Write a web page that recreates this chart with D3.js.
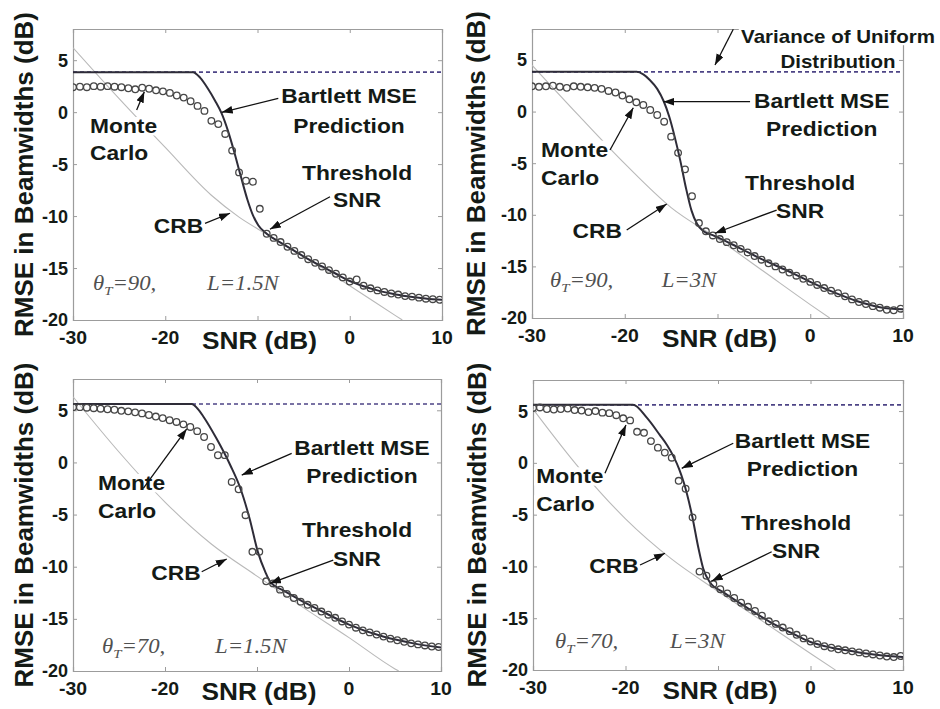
<!DOCTYPE html>
<html><head><meta charset="utf-8">
<script src="https://cdn.jsdelivr.net/npm/d3@7"></script>
<style>
body{margin:0;background:#fff}
svg{display:block;background:#fff}
</style>
</head><body>
<svg id="chart" width="940" height="709"></svg>
<script>
// ---------- data ----------
const snr = [-30,-29.25,-28.5,-27.75,-27,-26.25,-25.5,-24.75,-24,-23.25,
  -22.5,-21.75,-21,-20.25,-19.5,-18.75,-18,-17.25,-16.5,-15.75,
  -15,-14.25,-13.5,-12.75,-12,-11.25,-10.5,-9.75,-9,-8.25,
  -7.5,-6.75,-6,-5.25,-4.5,-3.75,-3,-2.25,-1.5,-0.75,
  0,0.75,1.5,2.25,3,3.75,4.5,5.25,6,6.75,
  7.5,8.25,9,9.75];

const xTicks = [-30,-20,-10,0,10];
const xTickLabels = ["-30","-20","0","10"];
const xTickLabelValues = [-30,-20,0,10];
const yTicks = [5,0,-5,-10,-15,-20];
const yTickLabels = ["5","0","-5","-10","-15","-20"];

// Monte Carlo RMSE (dB)
const mc1 = [2.4,2.45,2.4,2.5,2.45,2.5,2.45,2.4,2.3,2.2,
  2.35,2.25,2.1,2.0,1.85,1.6,1.4,1.05,0.6,0.12,
  -0.84,-1.15,-2.1,-3.7,-5.8,-6.6,-6.7,-9.3,-11.7,-12.1,
  -12.5,-12.95,-13.35,-13.75,-14.15,-14.5,-14.85,-15.2,-15.55,-15.9,
  -16.3,-16.1,-16.7,-16.95,-17.15,-17.3,-17.45,-17.55,-17.7,-17.75,
  -17.85,-17.95,-18.0,-18.05];
const mc2 = [2.45,2.4,2.45,2.5,2.4,2.3,2.45,2.4,2.35,2.3,
  2.2,2.0,1.85,1.55,1.19,0.9,0.64,0.15,-0.33,-0.98,
  -2.43,-4.0,-5.6,-8.2,-10.8,-11.6,-12.0,-12.35,-12.65,-12.95,
  -13.3,-13.65,-14.0,-14.35,-14.7,-15.0,-15.3,-15.6,-15.9,-16.2,
  -16.5,-16.8,-17.1,-17.35,-17.6,-17.9,-18.2,-18.45,-18.65,-18.85,
  -19.0,-19.2,-19.25,-19.1];
const mc3 = [5.3,5.3,5.25,5.2,5.15,5.1,5.05,4.95,4.9,4.8,
  4.7,4.55,4.4,4.25,4.05,3.88,3.65,3.4,3.0,2.44,
  1.48,0.69,0.7,-1.87,-2.57,-5.06,-8.57,-8.57,-11.4,-11.6,
  -12.2,-12.6,-13.0,-13.35,-13.65,-13.95,-14.3,-14.6,-14.9,-15.25,
  -15.55,-15.85,-16.1,-16.3,-16.5,-16.7,-16.9,-17.05,-17.2,-17.35,
  -17.45,-17.55,-17.65,-17.7];
const mc4 = [5.3,5.35,5.2,5.15,5.2,5.25,5.1,5.05,4.9,5.0,
  4.85,4.8,4.6,4.3,4.1,3.0,2.9,2.1,1.47,0.99,
  0.5,-1.73,-2.5,-5.26,-10.5,-10.9,-11.7,-12.2,-12.6,-13.05,
  -13.5,-13.9,-14.3,-14.75,-15.3,-15.55,-15.9,-16.25,-16.6,-16.95,
  -17.25,-17.5,-17.7,-17.85,-18.0,-18.1,-18.2,-18.3,-18.4,-18.5,
  -18.6,-18.7,-18.75,-18.65];

// Bartlett MSE prediction
const bart1X = [-30,-17,-16.2,-15.4,-14.6,-13.9,-13.2,-12.5,-11.8,-11.1,-10.5,-9.9,-9.0,-7.5,-6,-4.5,-3,-1.5,0,1.5,3,4.5,6,7.5,9,10];
const bart1Y = [3.85,3.85,3.3,2.3,1.1,-0.1,-1.8,-3.9,-6.2,-8.4,-9.9,-10.9,-11.7,-12.55,-13.35,-14.15,-14.85,-15.55,-16.25,-16.75,-17.15,-17.45,-17.7,-17.85,-18.0,-18.05];
const bart2X = [-30,-18.7,-18.0,-17.3,-16.5,-15.8,-15.2,-14.6,-14.0,-13.4,-12.8,-12.2,-11.5,-10.45,-7.9,-5,-2.5,0,2.5,5,7.5,10];
const bart2Y = [3.85,3.85,3.6,3.06,2.2,1.0,-0.5,-2.5,-4.8,-7.4,-9.6,-10.9,-11.6,-12.0,-13.1,-14.4,-15.4,-16.5,-17.5,-18.35,-18.95,-19.15];
const bart3X = [-30,-17.1,-16.5,-15.8,-14.4,-12.9,-11.8,-10.8,-9.9,-9.1,-8.6,-7,-5.3,-3,0,3.7,7,10];
const bart3Y = [5.6,5.6,5.2,4.36,2.29,-0.27,-2.5,-5.4,-8.6,-10.5,-11.4,-12.35,-13.2,-14.25,-15.55,-16.7,-17.35,-17.75];
const bart4X = [-30,-19.2,-17.7,-16.3,-15.5,-14.8,-14.2,-13.7,-12.8,-12.1,-11.6,-10.9,-9.4,-7,-4.4,-2,0,2.3,4.6,7.3,10];
const bart4Y = [5.6,5.6,4.36,2.7,1.7,0.6,-0.6,-1.9,-5.1,-8.3,-10.2,-11.5,-12.5,-13.9,-15.35,-16.45,-17.3,-17.85,-18.2,-18.55,-18.75];

// Cramer-Rao bound
const crb1X = [-30,-25,-20,-15,-12,-9,-5,0,5,5.7];
const crb1Y = [6.2,1.3,-3.4,-8.0,-10.1,-11.75,-13.9,-16.7,-19.6,-20.0];
const crb2X = [-30,-25,-20,-15,-10,-5,0,2.1];
const crb2Y = [4.5,-0.35,-5.05,-9.3,-12.3,-15.5,-18.7,-20.0];
const crb3X = [-30,-25,-20,-15,-10,-5,0,5,5.4];
const crb3Y = [6.3,1.0,-3.8,-7.8,-10.9,-13.9,-16.8,-19.8,-20.0];
const crb4X = [-30,-25,-20,-15,-10,-5,0,2.7];
const crb4Y = [5.2,-0.5,-5.4,-9.3,-12.4,-15.4,-18.4,-20.0];

// Variance of uniform distribution (dB)
const uniformLevel = [3.85, 3.85, 5.6, 5.6];

const thetaLabels = ["90","90","70","70"];
const lLabels = ["L=1.5N","L=3N","L=1.5N","L=3N"];

// ---------- layout / annotations ----------
const panelBoxes = [
  {x0:73, x1:442, y0:29, y1:320, ylabX:33},
  {x0:532, x1:903, y0:29, y1:318, ylabX:485},
  {x0:73, x1:441, y0:379, y1:671, ylabX:33},
  {x0:533, x1:903, y0:380, y1:670, ylabX:486}
];
const annotations = [
  { labels:[
      {lines:["Monte","Carlo"], x:-28.16, y:-2.01, anchor:"start", gap:27},
      {lines:["Bartlett MSE","Prediction"], x:-0.08, y:0.88, anchor:"middle", gap:30},
      {lines:["Threshold","SNR"], x:0.79, y:-6.53, anchor:"middle", gap:27},
      {lines:["CRB"], x:-18.56, y:-11.63, anchor:"middle", gap:28}],
    arrows:[[-23.1,0.21,-22.27,1.97],[-7.75,1.33,-13.88,-0.02],[-2.14,-8.14,-8.65,-11.27],[-15.69,-10.7,-12.98,-9.73]],
    theta:{x:-27.83,y:-17.11,lx:-15.47}},
  { labels:[
      {lines:["Variance of Uniform","Distribution"], x:2.99, y:6.64, anchor:"middle", gap:25, size:18},
      {lines:["Bartlett MSE","Prediction"], x:1.24, y:0.32, anchor:"middle", gap:28},
      {lines:["Monte","Carlo"], x:-29.03, y:-4.37, anchor:"start", gap:28},
      {lines:["Threshold","SNR"], x:-1.10, y:-7.6, anchor:"middle", gap:28},
      {lines:["CRB"], x:-22.97, y:-12.28, anchor:"middle", gap:28}],
    arrows:[[-8.30,7.97,-10.27,4.51],[-6.49,0.96,-15.84,0.96],[-21.59,-3.72,-19.08,0.37],[-3.62,-9.54,-10.27,-11.79],[-19.79,-11.47,-15.48,-8.96]],
    theta:{x:-28.06,y:-16.97,lx:-16.02}},
  { labels:[
      {lines:["Monte","Carlo"], x:-27.28, y:-2.64, anchor:"start", gap:28},
      {lines:["Bartlett MSE","Prediction"], x:1.41, y:0.71, anchor:"middle", gap:28},
      {lines:["Threshold","SNR"], x:0.87, y:-7.12, anchor:"middle", gap:29},
      {lines:["CRB"], x:-18.8, y:-11.27, anchor:"middle", gap:28}],
    arrows:[[-22.36,-2.48,-17.64,3.21],[-6.23,0.87,-11.66,-1.21],[-1.71,-9.36,-8.59,-11.59],[-16.01,-10.48,-13.29,-9.26]],
    theta:{x:-26.85,y:-18.3,lx:-14.57}},
  { labels:[
      {lines:["Monte","Carlo"], x:-29.64, y:-1.97, anchor:"start", gap:28},
      {lines:["Bartlett MSE","Prediction"], x:-0.86, y:1.41, anchor:"middle", gap:28},
      {lines:["Threshold","SNR"], x:-1.56, y:-6.48, anchor:"middle", gap:28},
      {lines:["CRB"], x:-21.24, y:-10.66, anchor:"middle", gap:28}],
    arrows:[[-22.22,-1.01,-19.95,3.66],[-8.35,1.89,-13.92,-0.53],[-4.2,-8.58,-10.68,-11.41],[-18.43,-9.86,-15.73,-8.73]],
    theta:{x:-27.62,y:-17.85,lx:-15.19}}
];

const mcs = [mc1, mc2, mc3, mc4];
const barts = [[bart1X,bart1Y],[bart2X,bart2Y],[bart3X,bart3Y],[bart4X,bart4Y]];
const crbs = [[crb1X,crb1Y],[crb2X,crb2Y],[crb3X,crb3Y],[crb4X,crb4Y]];

// ---------- drawing ----------
const SX = 1.14;
const FONT = "'Liberation Sans', Arial, Helvetica, sans-serif";
const SERIF = "'Liberation Serif', 'Times New Roman', serif";
const INK = "#141a16";
const svg = d3.select("#chart");
svg.append("rect").attr("width",940).attr("height",709).attr("fill","#fff");

const defs = svg.append("defs");
defs.append("marker").attr("id","ah").attr("viewBox","0 0 10 7")
  .attr("refX",10).attr("refY",3.5).attr("markerWidth",11).attr("markerHeight",8)
  .attr("markerUnits","userSpaceOnUse").attr("orient","auto")
  .append("path").attr("d","M0,0 L10,3.5 L0,7 Z").attr("fill","#111");

function stretchedText(parent, x, y, str, o) {
  const g = parent.append("g").attr("transform", `translate(${x},${y}) scale(${o.sx||1},1)`);
  const t = g.append("text").attr("x",0).attr("y",0)
    .attr("text-anchor", o.anchor||"start")
    .attr("font-family", o.family||FONT)
    .attr("font-size", o.size)
    .attr("font-weight", o.weight||"bold")
    .attr("fill", o.fill||INK)
    .text(str);
  if (o.dy) t.attr("dy", o.dy);
  if (o.bg) {
    const b = t.node().getBBox();
    const top = -0.8*o.size, bot = 0.12*o.size;
    g.insert("rect","text").attr("x",b.x-2).attr("y",top).attr("width",b.width+4)
      .attr("height",bot-top).attr("fill","#fff");
  }
  return g;
}

panelBoxes.forEach((pb, i) => {
  const x = d3.scaleLinear().domain([-30,10]).range([pb.x0, pb.x1]);
  const y = d3.scaleLinear().domain([-20,8]).range([pb.y1, pb.y0]);
  const g = svg.append("g");
  const clipId = "clip"+i;
  defs.append("clipPath").attr("id",clipId).append("rect")
    .attr("x",pb.x0).attr("y",pb.y0).attr("width",pb.x1-pb.x0).attr("height",pb.y1-pb.y0);

  // axes (inner ticks, box)
  const axCol = "#9c9c9c";
  const axB = g.append("g").attr("transform",`translate(0,${pb.y1})`)
    .call(d3.axisBottom(x).tickValues(xTicks).tickSize(-4).tickFormat(""));
  const axT = g.append("g").attr("transform",`translate(0,${pb.y0})`)
    .call(d3.axisTop(x).tickValues(xTicks).tickSize(-4).tickFormat(""));
  const axL = g.append("g").attr("transform",`translate(${pb.x0},0)`)
    .call(d3.axisLeft(y).tickValues(yTicks).tickSize(-4).tickFormat(""));
  const axR = g.append("g").attr("transform",`translate(${pb.x1},0)`)
    .call(d3.axisRight(y).tickValues(yTicks).tickSize(-4).tickFormat(""));
  [axB,axT,axL,axR].forEach(a => {
    a.select(".domain").attr("stroke",axCol).attr("stroke-width",1.2);
    a.selectAll(".tick line").attr("stroke",axCol).attr("stroke-width",1);
  });

  // tick labels
  xTickLabelValues.forEach((v,k) => {
    stretchedText(g, x(v), pb.y1+24, xTickLabels[k], {size:18, anchor:"middle", sx:1.08});
  });
  yTicks.forEach((v,k) => {
    stretchedText(g, pb.x0-5, y(v), yTickLabels[k], {size:18, anchor:"end", sx:1.0, dy:"0.36em"});
  });

  // axis labels
  stretchedText(g, x(-10)+2, pb.y1+29, "SNR (dB)", {size:23, anchor:"middle", sx:SX});
  g.append("text").attr("transform",`translate(${pb.ylabX},${(pb.y0+pb.y1)/2}) rotate(-90)`)
    .attr("text-anchor","middle").attr("font-family",FONT).attr("font-weight","bold")
    .attr("font-size",26).attr("fill",INK).text("RMSE in Beamwidths (dB)");

  const plot = g.append("g").attr("clip-path",`url(#${clipId})`);

  // CRB
  const [cx, cy] = crbs[i];
  plot.append("path").datum(cx.map((v,k)=>[v,cy[k]]))
    .attr("d", d3.line().x(d=>x(d[0])).y(d=>y(d[1])).curve(d3.curveMonotoneX))
    .attr("fill","none").attr("stroke","#b9b9b9").attr("stroke-width",1.1);

  // Variance of uniform (dashed)
  plot.append("path").datum([[-30,uniformLevel[i]],[10,uniformLevel[i]]])
    .attr("d", d3.line().x(d=>x(d[0])).y(d=>y(d[1])))
    .attr("fill","none").attr("stroke","#4d4486").attr("stroke-width",1.6)
    .attr("stroke-dasharray","4,3");

  // Bartlett prediction
  const [bx, by] = barts[i];
  plot.append("path").datum(bx.map((v,k)=>[v,by[k]]))
    .attr("d", d3.line().x(d=>x(d[0])).y(d=>y(d[1])).curve(d3.curveMonotoneX))
    .attr("fill","none").attr("stroke","#2e2c38").attr("stroke-width",2);

  // Monte Carlo markers
  plot.append("g").selectAll("circle").data(snr.map((v,k)=>[v,mcs[i][k]])).join("circle")
    .attr("cx",d=>x(d[0])).attr("cy",d=>y(d[1])).attr("r",3.3)
    .attr("fill","none").attr("stroke","#474747").attr("stroke-width",1.3);

  // text annotations
  const an = annotations[i];
  an.labels.forEach(lb => {
    lb.lines.forEach((ln, k) => {
      stretchedText(g, x(lb.x), y(lb.y) + k*lb.gap, ln, {size:lb.size||20, anchor:lb.anchor, sx:SX, bg:true});
    });
  });

  // theta / L label
  const th = an.theta;
  const tg = g.append("g").attr("transform",`translate(${x(th.x)},${y(th.y)}) scale(${SX},1)`);
  const tt = tg.append("text").attr("font-family",SERIF).attr("font-style","italic")
    .attr("font-size",20).attr("fill","#505050");
  tt.append("tspan").text("θ");
  tt.append("tspan").attr("font-size",13).attr("dy",5).text("T");
  tt.append("tspan").attr("dy",-5).text("=" + thetaLabels[i] + ",");
  const lg = g.append("g").attr("transform",`translate(${x(th.lx)},${y(th.y)}) scale(${SX},1)`);
  lg.append("text").attr("font-family",SERIF).attr("font-style","italic")
    .attr("font-size",20).attr("fill","#505050").text(lLabels[i]);

  // arrows
  an.arrows.forEach(a => {
    g.append("line").attr("x1",x(a[0])).attr("y1",y(a[1])).attr("x2",x(a[2])).attr("y2",y(a[3]))
      .attr("stroke","#111").attr("stroke-width",1.3).attr("marker-end","url(#ah)");
  });
});
</script>
</body></html>
